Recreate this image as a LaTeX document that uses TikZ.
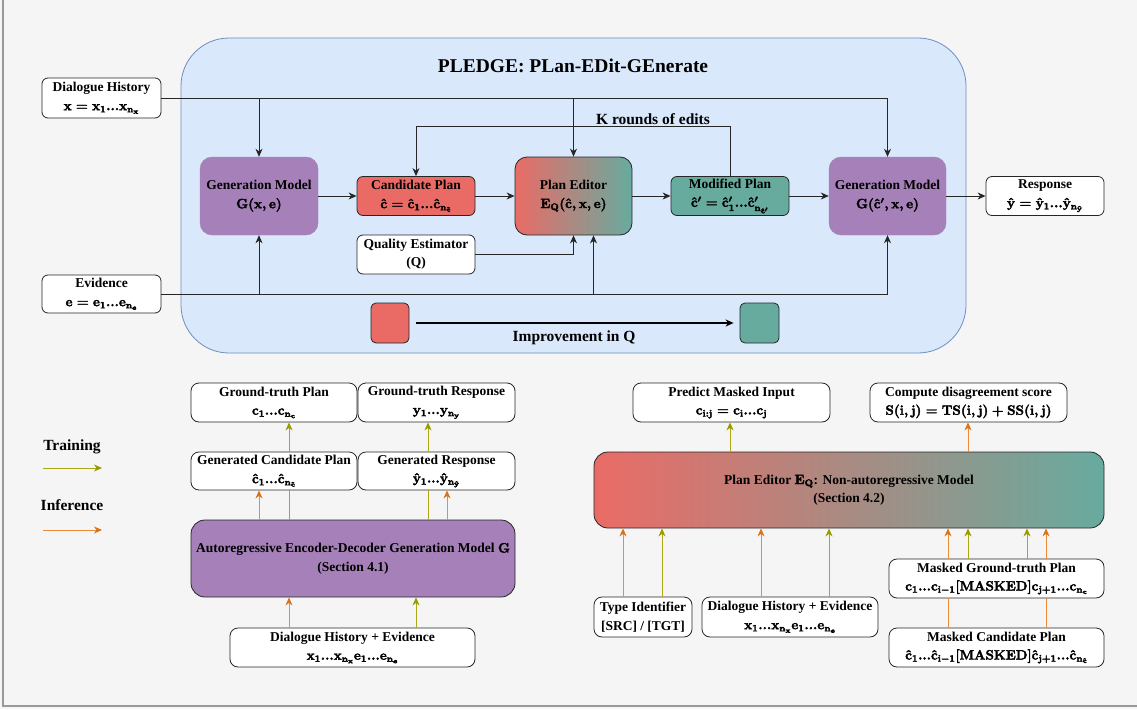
\RequirePackage{fix-cm}
\documentclass[tikz,border=0pt]{standalone}
\usepackage[no-math]{fontspec}
\setmainfont{Liberation Serif}
\usetikzlibrary{arrows.meta,calc}
\newcommand{\MB}[1]{\special{pdf:literal direct 0 G 2 Tr 0.35 w}\mathbf{#1}\special{pdf:literal direct 0 Tr}}
\definecolor{bgc}{HTML}{F5F5F5}
\definecolor{blfill}{HTML}{DAE8FC}
\definecolor{bldraw}{HTML}{6C8EBF}
\definecolor{purp}{HTML}{A680B8}
\definecolor{redc}{HTML}{EA6B66}
\definecolor{tealc}{HTML}{67AB9F}
\definecolor{orc}{HTML}{EC8C3A}
\definecolor{orh}{HTML}{D9731A}
\definecolor{olc}{HTML}{A8A818}
\definecolor{olh}{HTML}{999900}
\definecolor{linec}{HTML}{262626}
\begin{document}
\begin{tikzpicture}[x=1pt,y=-1pt,
  font=\fontsize{13.5}{18.5}\selectfont\bfseries\boldmath,
  box/.style={draw=linec, line width=0.8pt, rounded corners=6pt, fill=white, align=center, inner sep=0pt},
  purpbox/.style={fill=purp, draw=purp, rounded corners=12pt, align=center, inner sep=0pt},
  tip/.style={-{Stealth[length=8pt,width=7pt,inset=2.5pt]}},
  arr/.style={tip, line width=0.9pt, draw=linec},
  oarr/.style={-{Stealth[length=8pt,width=7pt,inset=2.5pt,color=orh]}, line width=1pt, draw=orc},
  garr/.style={-{Stealth[length=8pt,width=7pt,inset=2.5pt,color=olh]}, line width=1pt, draw=olc},
  oline/.style={line width=1pt, draw=orc},
  gline/.style={line width=1pt, draw=olc},
  lbl/.style={inner sep=0pt, font=\fontsize{15.5}{18}\selectfont\bfseries\boldmath}
]
\useasboundingbox (0,0) rectangle (1137,709);
\fill[bgc] (0,0) rectangle (1137,709);
\draw[black!40, line width=1.5pt] (3,-2) -- (3,706) -- (1140,706);

% big blue container
\node[draw=bldraw, fill=blfill, line width=0.8pt, rounded corners=48pt, minimum width=785pt, minimum height=315pt, inner sep=0pt] (cont) at (573.5,195.5) {};
\node[inner sep=0pt, font=\fontsize{19.5}{22}\selectfont\bfseries] (title) at (573,66) {PLEDGE: PLan-EDit-GEnerate};

% top row
\node[box, minimum width=119pt, minimum height=40pt] (dh) at (101.5,98) {Dialogue History\\ $\MB{x=x_1...x_{n_x}}$};
\node[box, minimum width=119pt, minimum height=38pt] (ev) at (101.5,294) {Evidence\\ $\MB{e=e_1...e_{n_e}}$};
\node[purpbox, minimum width=118pt, minimum height=78pt] (gen1) at (259,196) {Generation Model\\ $\MB{G(x,e)}$};
\node[box, fill=redc, minimum width=118pt, minimum height=39pt] (cand) at (416,196) {Candidate Plan\\ $\MB{\hat{c}=\hat{c}_1...\hat{c}_{n_{\hat{c}}}}$};
\node[box, minimum width=118pt, minimum height=39pt] (qe) at (416,254.5) {Quality Estimator\\ (Q)};
\node[box, rounded corners=12pt, left color=redc, right color=tealc, minimum width=117pt, minimum height=78pt] (pe) at (573.5,196) {Plan Editor\\ $\MB{E_Q(\hat{c},x,e)}$};
\node[box, fill=tealc, minimum width=118pt, minimum height=39pt] (mod) at (730,196) {Modified Plan\\ $\MB{\hat{c}'=\hat{c}'_1...\hat{c}'_{n_{\hat{c}'}}}$};
\node[purpbox, minimum width=117pt, minimum height=78pt] (gen2) at (887.5,196) {Generation Model\\ $\MB{G(\hat{c}',x,e)}$};
\node[box, minimum width=118pt, minimum height=39pt] (resp) at (1045,196) {Response\\ $\MB{\hat{y}=\hat{y}_1...\hat{y}_{n_{\hat{y}}}}$};

\draw[arr] (dh.east) -| (gen2.north);
\draw[arr] (dh.east -| gen1.north) -- (gen1.north);
\draw[arr] (dh.east -| pe.north) -- (pe.north);
\draw[arr] (ev.east) -| (gen2.south);
\draw[arr] (ev.east -| gen1.south) -- (gen1.south);
\coordinate (pein) at ($(pe.south)+(20,0)$);
\draw[arr] (ev.east -| pein) -- (pein);
\draw[arr] (qe.east) -| (pe.south);
\draw[arr] (gen1.east) -- (cand.west);
\draw[arr] (cand.east) -- (pe.west);
\draw[arr] (pe.east) -- (mod.west);
\draw[arr] (mod.east) -- (gen2.west);
\draw[arr] (gen2.east) -- (resp.west);
\coordinate (kr) at (730,126);
\draw[arr] (mod.north) -- (kr) -| (cand.north);
\node[lbl] (krl) at (653,119) {K rounds of edits};

% improvement legend
\node[draw=linec, line width=0.8pt, fill=redc, rounded corners=5pt, minimum width=38pt, minimum height=40pt, inner sep=0pt] (rsq) at (390,323) {};
\node[draw=linec, line width=0.8pt, fill=tealc, rounded corners=5pt, minimum width=39pt, minimum height=40pt, inner sep=0pt] (tsq) at (759.5,323) {};
\draw[tip, line width=1.6pt, draw=black] ([xshift=7pt]rsq.east) -- ([xshift=-6pt]tsq.west);
\node[lbl] (imp) at (574,338) {Improvement in Q};

% legend training / inference
\node[lbl] (train) at (72,447) {Training};
\coordinate (t1) at (43,468); \coordinate (t2) at (102,468);
\draw[garr] (t1) -- (t2);
\node[lbl] (infer) at (72,505) {Inference};
\coordinate (i1) at (43,530); \coordinate (i2) at (102,530);
\draw[oarr] (i1) -- (i2);

% bottom left
\node[box, rounded corners=8pt, minimum width=166pt, minimum height=39pt] (gtp) at (274,402.5) {Ground-truth Plan\\ $\MB{c_1...c_{n_c}}$};
\node[box, rounded corners=8pt, minimum width=157pt, minimum height=39pt] (gtr) at (436.5,402.5) {Ground-truth Response\\ $\MB{y_1...y_{n_y}}$};
\node[box, rounded corners=8pt, minimum width=166pt, minimum height=38pt] (gcp) at (274,471) {Generated Candidate Plan\\ $\MB{\hat{c}_1...\hat{c}_{n_{\hat{c}}}}$};
\node[box, rounded corners=8pt, minimum width=157pt, minimum height=38pt] (gr) at (436.5,471) {Generated Response\\ $\MB{\hat{y}_1...\hat{y}_{n_{\hat{y}}}}$};
\node[box, fill=purp, rounded corners=14pt, minimum width=324pt, minimum height=77pt] (ar) at (353,558.5) {Autoregressive Encoder-Decoder Generation Model $\MB{G}$\\ (Section 4.1)};
\node[box, rounded corners=8pt, minimum width=245pt, minimum height=39pt] (dhe1) at (352.5,647.5) {Dialogue History + Evidence\\ $\MB{x_1...x_{n_x}e_1...e_{n_e}}$};

\foreach \n/\x in {cA/289,cB/428,cC/259,cD/447,cE/416,
  d730/730,d968/968,d623/623,d662/662,d761/761,d829/829,d948/948,d969/968,d1027/1027,d1046/1046}
  \coordinate (\n) at (\x,0);

\draw[gline] (ar.north -| cA) -- (gcp.south -| cA);
\draw[garr] (gcp.north -| cA) -- (gtp.south -| cA);
\draw[gline] (ar.north -| cB) -- (gr.south -| cB);
\draw[garr] (gr.north -| cB) -- (gtr.south -| cB);
\draw[oarr] (ar.north -| cC) -- (gcp.south -| cC);
\draw[oarr] (ar.north -| cD) -- (gr.south -| cD);
\draw[oarr] (dhe1.north -| cA) -- (ar.south -| cA);
\draw[garr] (dhe1.north -| cE) -- (ar.south -| cE);

% bottom right
\node[box, rounded corners=8pt, minimum width=197pt, minimum height=39pt] (pmi) at (731.5,402.5) {Predict Masked Input\\ $\MB{c_{i:j}=c_i...c_j}$};
\node[box, rounded corners=8pt, minimum width=197pt, minimum height=39pt] (cds) at (968.5,402.5) {Compute disagreement score\\ $\MB{S(i,j)=TS(i,j)+SS(i,j)}$};
\node[box, rounded corners=14pt, left color=redc, right color=tealc, minimum width=510pt, minimum height=76pt] (pe2) at (849,490) {Plan Editor $\MB{E_Q}$: Non-autoregressive Model\\ (Section 4.2)};
\node[box, rounded corners=8pt, minimum width=98pt, minimum height=40pt] (ti) at (643,617) {Type Identifier\\\relax [SRC] / [TGT]};
\node[box, rounded corners=8pt, minimum width=176pt, minimum height=40pt] (dhe2) at (790,617) {Dialogue History + Evidence\\ $\MB{x_1...x_{n_x}e_1...e_{n_e}}$};
\node[box, rounded corners=8pt, minimum width=215pt, minimum height=39pt] (mgt) at (996.5,578.5) {Masked Ground-truth Plan\\ $\MB{c_1...c_{i-1}[MASKED]c_{j+1}...c_{n_c}}$};
\node[box, rounded corners=8pt, minimum width=215pt, minimum height=39pt] (mcp) at (996.5,647.5) {Masked Candidate Plan\\ $\MB{\hat{c}_1...\hat{c}_{i-1}[MASKED]\hat{c}_{j+1}...\hat{c}_{n_{\hat{c}}}}$};

\draw[garr] (pe2.north -| d730) -- (pmi.south -| d730);
\draw[oarr] (pe2.north -| d968) -- (cds.south -| d968);
\draw[oarr] (ti.north -| d623) -- (pe2.south -| d623);
\draw[garr] (ti.north -| d662) -- (pe2.south -| d662);
\draw[oarr] (dhe2.north -| d761) -- (pe2.south -| d761);
\draw[garr] (dhe2.north -| d829) -- (pe2.south -| d829);
\draw[oarr] (mgt.north -| d948) -- (pe2.south -| d948);
\draw[garr] (mgt.north -| d969) -- (pe2.south -| d969);
\draw[garr] (mgt.north -| d1027) -- (pe2.south -| d1027);
\draw[oarr] (mgt.north -| d1046) -- (pe2.south -| d1046);
\draw[oline] (mcp.north -| d948) -- (mgt.south -| d948);
\draw[oline] (mcp.north -| d1046) -- (mgt.south -| d1046);
\end{tikzpicture}
\end{document}
